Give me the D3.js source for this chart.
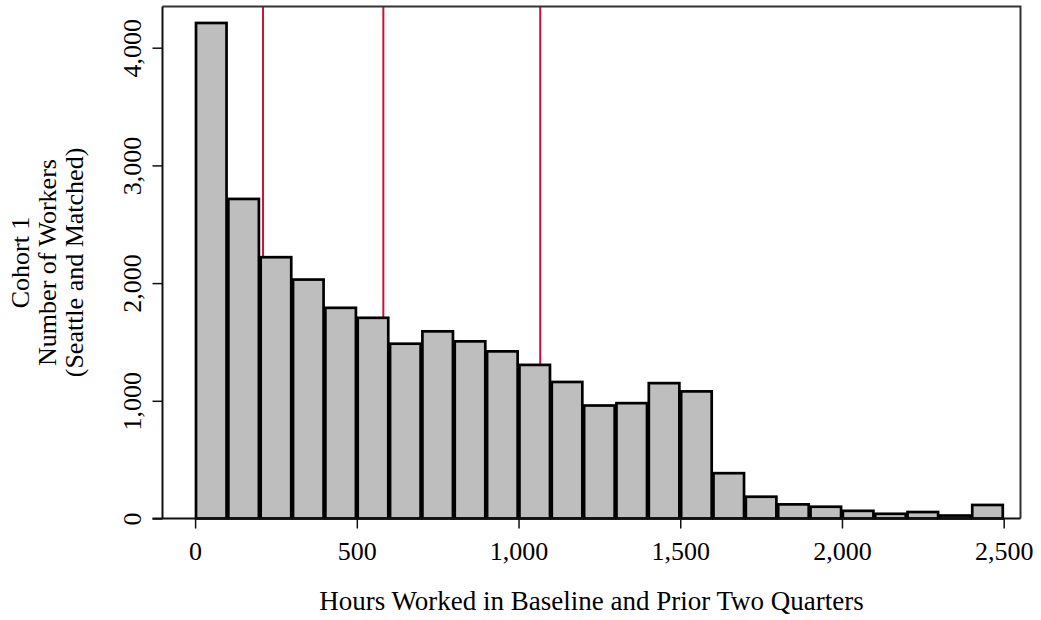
<!DOCTYPE html>
<html>
  <head>
    <meta charset="utf-8" />
    <title>Cohort 1 hours histogram</title>
    <script src="https://d3js.org/d3.v7.min.js"></script>
    <style>
        body{
            margin:0;
            background:#fff;
        }
        text{
            font-family:"Liberation Serif", "Times New Roman", serif;
        }
    </style>
  </head>
  <body>
    <svg id="hist"></svg>

    <script>
      // bins are 100 hours wide, starting at these values
      var binStarts = [0, 100, 200, 300, 400, 500, 600, 700, 800, 900, 1000, 1100, 1200,
                       1300, 1400, 1500, 1600, 1700, 1800, 1900, 2000, 2100, 2200, 2300, 2400];
      var counts = [4210, 2715, 2220, 2030, 1790, 1705, 1485, 1590, 1505, 1420, 1305, 1160, 960,
                    980, 1150, 1080, 385, 185, 120, 100, 65, 40, 55, 25, 115];
      var binWidth = 100;
      var cutLines = [210, 582, 1067];
      var xTicks = [0, 500, 1000, 1500, 2000, 2500];
      var yTicks = [0, 1000, 2000, 3000, 4000];

      var width = 1041;
      var height = 620;
      var fontSize = 26;

      var plot = {left: 162.5, right: 1020.5, top: 6.5, bottom: 518.5};

      var svg = d3.select("#hist")
        .attr("width", width)
        .attr("height", height);

      var x = d3.scaleLinear()
        .domain([-100.8, 2552])
        .range([plot.left, plot.right]);

      var y = d3.scaleLinear()
        .domain([0, 4350])
        .range([plot.bottom, plot.top]);

      var data = binStarts.map(function(d, i) {
        return {x0: d, x1: d + binWidth, n: counts[i]};
      });

      // red reference lines go behind the bars
      svg.append("g").selectAll("line")
        .data(cutLines)
        .enter().append("line")
        .attr("x1", function(d) { return x(d); })
        .attr("x2", function(d) { return x(d); })
        .attr("y1", plot.top)
        .attr("y2", plot.bottom)
        .attr("stroke", "#c8143c")
        .attr("stroke-width", 2);

      svg.append("g").selectAll("rect")
        .data(data)
        .enter().append("rect")
        .attr("x", function(d) { return x(d.x0) + 0.9; })
        .attr("width", function(d) { return x(d.x1) - x(d.x0) - 1.8; })
        .attr("y", function(d) { return y(d.n); })
        .attr("height", function(d) { return y(0) - y(d.n); })
        .attr("fill", "#bebebe")
        .attr("stroke", "#000")
        .attr("stroke-width", 2.7);

      // top and right frame
      svg.append("path")
        .attr("d", "M" + plot.left + "," + plot.top + "H" + plot.right + "V" + plot.bottom)
        .attr("fill", "none")
        .attr("stroke", "#333")
        .attr("stroke-width", 2);

      var xAxis = d3.axisBottom(x)
        .tickValues(xTicks)
        .tickFormat(d3.format(","))
        .tickSizeInner(10)
        .tickSizeOuter(0);

      var gx = svg.append("g")
        .attr("transform", "translate(0," + plot.bottom + ")")
        .call(xAxis);
      gx.select(".domain")
        .attr("d", "M" + (plot.left - 10) + ",0H" + plot.right)
        .attr("stroke", "#111").attr("stroke-width", 2);
      gx.selectAll(".tick line").attr("stroke", "#111").attr("stroke-width", 1.5);
      gx.selectAll(".tick text")
        .attr("font-size", fontSize)
        .attr("fill", "#000")
        .attr("font-family", "Liberation Serif")
        .attr("y", 41)
        .attr("dy", 0);

      var yAxis = d3.axisLeft(y)
        .tickValues(yTicks)
        .tickFormat(d3.format(","))
        .tickSizeInner(10)
        .tickSizeOuter(0);

      var gy = svg.append("g")
        .attr("transform", "translate(" + plot.left + ",0)")
        .call(yAxis);
      gy.select(".domain")
        .attr("d", "M0," + plot.top + "V" + plot.bottom)
        .attr("stroke", "#111").attr("stroke-width", 2);
      gy.selectAll(".tick line").attr("stroke", "#111").attr("stroke-width", 1.5);
      gy.selectAll(".tick text")
        .attr("font-size", fontSize)
        .attr("fill", "#000")
        .attr("font-family", "Liberation Serif")
        .attr("text-anchor", "middle")
        .attr("dy", 0)
        .attr("x", 0)
        .attr("transform", "translate(-22,0) rotate(-90)");

      // axis titles
      svg.append("text")
        .attr("x", (plot.left + plot.right) / 2)
        .attr("y", 610)
        .attr("text-anchor", "middle")
        .attr("font-size", 27)
        .text("Hours Worked in Baseline and Prior Two Quarters");

      var yTitle = ["Cohort 1", "Number of Workers", "(Seattle and Matched)"];
      var midY = (plot.top + plot.bottom) / 2;
      svg.append("g").selectAll("text")
        .data(yTitle)
        .enter().append("text")
        .attr("text-anchor", "middle")
        .attr("font-size", fontSize)
        .attr("transform", function(d, i) {
          return "translate(" + (29 + i * 27) + "," + midY + ") rotate(-90)";
        })
        .text(function(d) { return d; });
    </script>
  </body>
</html>
